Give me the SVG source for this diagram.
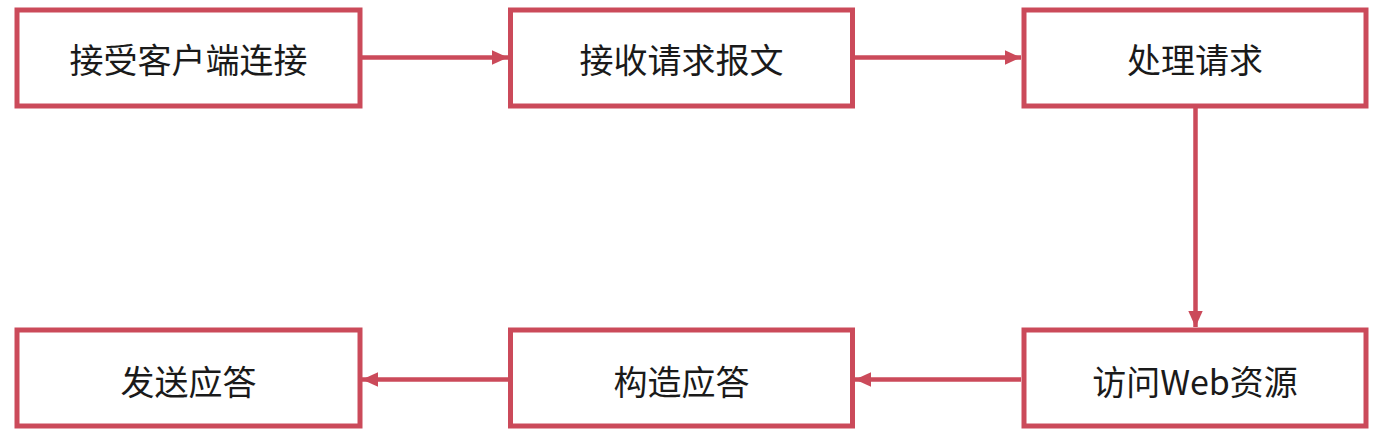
<svg xmlns="http://www.w3.org/2000/svg" width="1381" height="444" viewBox="0 0 1381 444">
<style>
.box{fill:#fff;stroke:#CB4A5A;stroke-width:5}
.lbl{font-family:"Noto Sans CJK SC","Liberation Sans",sans-serif;font-size:34px;fill:#1a1a1a;text-anchor:middle;dominant-baseline:central}
.con{stroke:#CB4A5A;stroke-width:4.5;fill:none;marker-end:url(#ah)}
</style>
<defs>
<marker id="ah" viewBox="0 0 10 10" refX="10" refY="5" markerWidth="3.6" markerHeight="3.6" orient="auto" markerUnits="strokeWidth">
<path d="M0,0.5 L10,5 L0,9.5 z" fill="#CB4A5A"/>
</marker>
</defs>
<rect width="1381" height="444" fill="#fff"/>
<g id="connectors">
<line class="con" x1="362" y1="57.5" x2="508" y2="57.5"/>
<line class="con" x1="855" y1="57.5" x2="1021" y2="57.5"/>
<line class="con" x1="1195.5" y1="108" x2="1195.5" y2="327"/>
<line class="con" x1="1021" y1="379.5" x2="855" y2="379.5"/>
<line class="con" x1="508" y1="379.5" x2="362" y2="379.5"/>
</g>
<g id="n1"><rect class="box" x="17" y="10" width="343" height="96"/><text class="lbl" x="188.5" y="58">接受客户端连接</text></g>
<g id="n2"><rect class="box" x="510.5" y="10" width="342" height="96"/><text class="lbl" x="681.5" y="58">接收请求报文</text></g>
<g id="n3"><rect class="box" x="1024" y="10" width="342" height="96"/><text class="lbl" x="1195" y="58">处理请求</text></g>
<g id="n4"><rect class="box" x="1024" y="330" width="342" height="96"/><text class="lbl" x="1195" y="380">访问Web资源</text></g>
<g id="n5"><rect class="box" x="510.5" y="330" width="342" height="96"/><text class="lbl" x="681.5" y="380">构造应答</text></g>
<g id="n6"><rect class="box" x="17" y="330" width="343" height="96"/><text class="lbl" x="188.5" y="380">发送应答</text></g>
</svg>
